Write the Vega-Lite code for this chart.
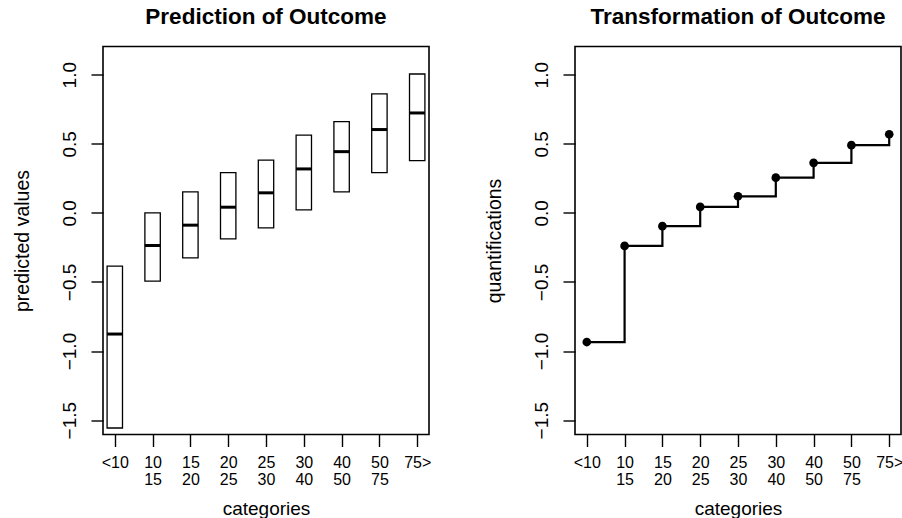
{
  "$schema": "https://vega.github.io/schema/vega-lite/v6.json",
  "autosize": {"type": "pad"},
  "padding": {"left": 11, "top": 4.5, "right": 0, "bottom": 0},
  "background": "white",
  "datasets": {
    "outcome": [
      {"cat": "<10", "lo": -1.557, "med": -0.877, "hi": -0.385, "q": -0.935},
      {"cat": "10 15", "lo": -0.494, "med": -0.236, "hi": 0.0, "q": -0.239},
      {"cat": "15 20", "lo": -0.326, "med": -0.089, "hi": 0.152, "q": -0.096},
      {"cat": "20 25", "lo": -0.188, "med": 0.041, "hi": 0.291, "q": 0.043},
      {"cat": "25 30", "lo": -0.108, "med": 0.145, "hi": 0.381, "q": 0.12},
      {"cat": "30 40", "lo": 0.022, "med": 0.318, "hi": 0.562, "q": 0.255},
      {"cat": "40 50", "lo": 0.152, "med": 0.443, "hi": 0.661, "q": 0.362},
      {"cat": "50 75", "lo": 0.291, "med": 0.603, "hi": 0.861, "q": 0.49},
      {"cat": "75>", "lo": 0.378, "med": 0.723, "hi": 1.005, "q": 0.569}
    ]
  },
  "data": {"name": "outcome"},
  "spacing": 146,
  "bounds": "flush",
  "config": {
    "font": "Liberation Sans",
    "view": {"stroke": "black", "strokeWidth": 1.6},
    "title": {"fontSize": 22.5, "fontWeight": "bold", "color": "black", "anchor": "middle", "frame": "group", "baseline": "alphabetic", "offset": 18.5},
    "axis": {
      "domain": false, "grid": false,
      "tickColor": "black", "tickSize": 12, "tickWidth": 1.4,
      "labelColor": "black", "titleColor": "black",
      "labelFont": "Liberation Sans", "titleFont": "Liberation Sans",
      "titleFontWeight": "normal"
    },
    "axisX": {
      "labelFontSize": 16, "labelAngle": 0, "labelPadding": 8, "labelLineHeight": 16.7,
      "labelBaseline": "top", "labelAlign": "center",
      "titleFontSize": 19, "titleBaseline": "alphabetic", "titleY": 80, "titleX": 163, "titleAlign": "center"
    },
    "axisY": {
      "labelFontSize": 19, "labelAngle": 270, "labelAlign": "center", "labelBaseline": "alphabetic", "labelPadding": 16,
      "titleFontSize": 19.5, "titleAngle": 270, "titleAlign": "center", "titleBaseline": "alphabetic", "titleX": -75, "titleY": 194
    }
  },
  "hconcat": [
    {
      "width": 326, "height": 388,
      "title": "Prediction of Outcome",
      "encoding": {
        "x": {"field": "cat", "type": "ordinal", "sort": null,
              "scale": {"type": "point", "padding": 0.312},
              "axis": {"title": "categories", "labelExpr": "split(datum.label, ' ')"}}
      },
      "layer": [
        {
          "mark": {"type": "rect", "fill": "white", "stroke": "black", "strokeWidth": 1.3, "xOffset": -7.7, "x2Offset": 7.7},
          "encoding": {
            "x2": {"field": "cat"},
            "y": {"field": "lo", "type": "quantitative",
                  "scale": {"domain": [-1.604, 1.204], "nice": false, "zero": false},
                  "axis": {"title": "predicted values", "values": [-1.5, -1, -0.5, 0, 0.5, 1], "labelExpr": "replace(format(datum.value, '.1f'), '-', '−')"}},
            "y2": {"field": "hi"}
          }
        },
        {
          "mark": {"type": "rule", "color": "black", "strokeWidth": 3, "xOffset": -7.7, "x2Offset": 7.7},
          "encoding": {
            "x2": {"field": "cat"},
            "y": {"field": "med", "type": "quantitative"}
          }
        }
      ]
    },
    {
      "width": 326, "height": 388,
      "title": "Transformation of Outcome",
      "encoding": {
        "x": {"field": "cat", "type": "ordinal", "sort": null,
              "scale": {"type": "point", "padding": 0.312},
              "axis": {"title": "categories", "labelExpr": "split(datum.label, ' ')"}},
        "y": {"field": "q", "type": "quantitative",
              "scale": {"domain": [-1.604, 1.204], "nice": false, "zero": false},
              "axis": {"title": "quantifications", "values": [-1.5, -1, -0.5, 0, 0.5, 1], "labelExpr": "replace(format(datum.value, '.1f'), '-', '−')"}}
      },
      "layer": [
        {"mark": {"type": "line", "interpolate": "step-after", "color": "black", "strokeWidth": 2.2}},
        {"mark": {"type": "point", "filled": true, "color": "black", "opacity": 1, "size": 75}}
      ]
    }
  ]
}
